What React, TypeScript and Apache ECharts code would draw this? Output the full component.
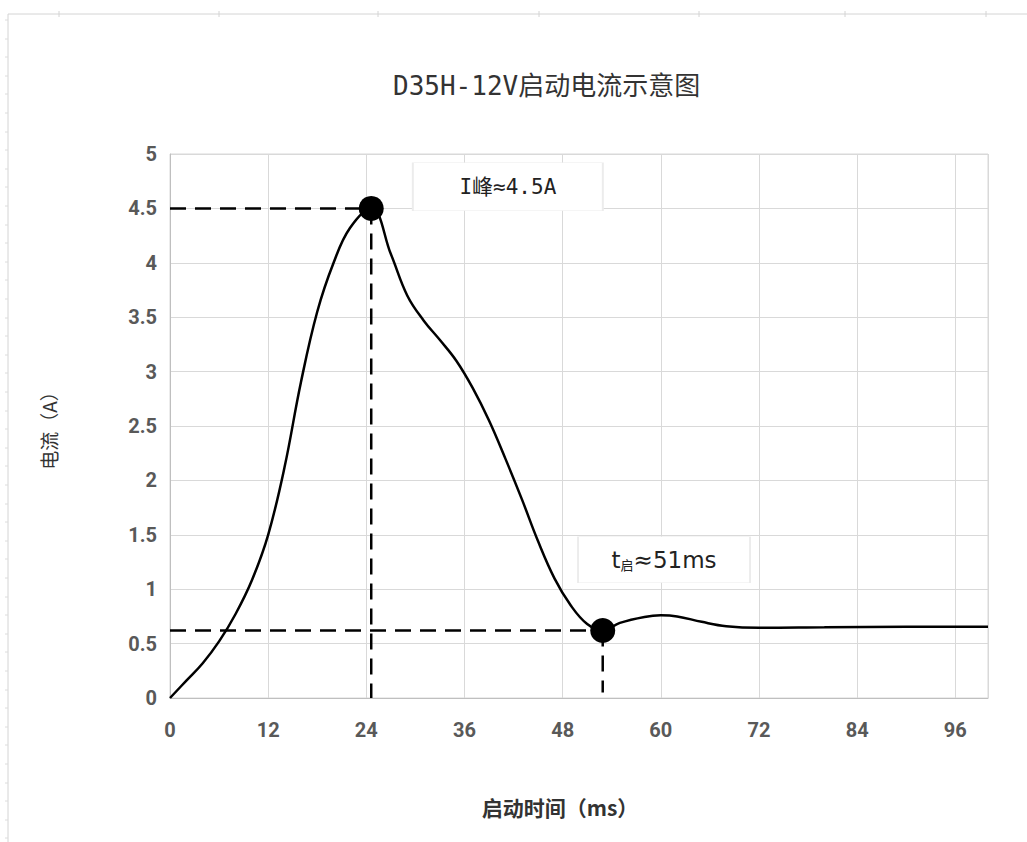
import React, { useEffect, useRef } from "react";
import * as echarts from "echarts";

const TITLE = "D35H-12V启动电流示意图";
const X_NAME = "启动时间（ms）";
const Y_NAME = "电流（A）";

// time (ms) and current (A)
const timeMs = [0, 2, 4, 6, 8, 10, 12, 14, 16, 18, 20, 22, 24.6, 27, 29, 31, 33, 35, 37, 39, 41, 43, 45, 47, 49, 51, 52.9, 55, 58, 60, 62, 65, 68, 72, 80, 90, 100];
const currentA = [0, 0.16, 0.32, 0.52, 0.77, 1.08, 1.5, 2.12, 2.9, 3.55, 4.0, 4.32, 4.5, 4.08, 3.7, 3.47, 3.29, 3.1, 2.85, 2.55, 2.2, 1.83, 1.44, 1.1, 0.85, 0.68, 0.62, 0.69, 0.745, 0.76, 0.75, 0.7, 0.66, 0.645, 0.65, 0.655, 0.655];

const peakPoint = [24.6, 4.5];
const startPoint = [52.9, 0.62];
const peakLabel = "I峰≈4.5A";
const startLabelRich = "t{sub|启}≈51ms";
const peakLabelAnchor = [41.3, 4.7];
const startLabelAnchor = [60.4, 1.27];

export default function App() {
  const ref = useRef<HTMLDivElement>(null);
  useEffect(() => {
    if (!ref.current) return;
    const chart = echarts.init(ref.current, null, { renderer: "svg" });
    const dash = { color: "#000", width: 2.5, type: [16, 9] as any };
    const cjk = "'Noto Sans CJK SC', sans-serif";
    const mono = "'DejaVu Sans Mono', 'Noto Sans CJK SC', monospace";
    const topTicks = [59, 219, 378, 539, 699, 845, 986];
    const leftTicks: number[] = [];
    for (let y = 20; y < 842; y += 18.6) leftTicks.push(Math.round(y));
    chart.setOption({
      animation: false,
      backgroundColor: "#fff",
      title: {
        text: TITLE,
        left: 388,
        top: 68,
        textStyle: { fontFamily: mono, fontSize: 26, fontWeight: "normal", color: "#333" },
      },
      graphic: [
        { type: "line", shape: { x1: 8, y1: 14, x2: 1027, y2: 14 }, style: { stroke: "#d4d4d4", lineWidth: 1 } },
        { type: "line", shape: { x1: 8, y1: 14, x2: 8, y2: 842 }, style: { stroke: "#d4d4d4", lineWidth: 1 } },
        ...topTicks.map((x) => ({ type: "line", shape: { x1: x, y1: 11, x2: x, y2: 17 }, style: { stroke: "#d4d4d4", lineWidth: 1 } })),
        ...leftTicks.map((y) => ({ type: "line", shape: { x1: 5, y1: y, x2: 8, y2: y }, style: { stroke: "#dcdcdc", lineWidth: 1 } })),
      ],
      grid: {
        left: 170,
        right: 39,
        top: 154,
        bottom: 144,
        show: true,
        borderColor: "#d9d9d9",
        borderWidth: 1,
      },
      xAxis: {
        type: "value",
        min: 0,
        max: 100,
        interval: 12,
        name: X_NAME,
        nameLocation: "middle",
        nameGap: 98,
        nameTextStyle: { fontFamily: cjk, fontSize: 21, fontWeight: "bold", color: "#333", padding: [0, 38, 0, 0] },
        axisLine: { show: true, lineStyle: { color: "#bfbfbf" } },
        axisTick: { show: false },
        splitLine: { show: true, lineStyle: { color: "#d9d9d9" } },
        axisLabel: {
          margin: 22,
          fontFamily: "Roboto, sans-serif",
          fontSize: 20,
          fontWeight: "bold",
          color: "#595959",
          formatter: (v: number) => (v === 100 ? "" : String(v)),
        },
      },
      yAxis: {
        type: "value",
        min: 0,
        max: 5,
        interval: 0.5,
        name: Y_NAME,
        nameLocation: "middle",
        nameRotate: 90,
        nameGap: 112,
        nameTextStyle: { fontFamily: cjk, fontSize: 19, color: "#333" },
        axisLine: { show: true, lineStyle: { color: "#bfbfbf" } },
        axisTick: { show: false },
        splitLine: { show: true, lineStyle: { color: "#d9d9d9" } },
        axisLabel: {
          margin: 13,
          fontFamily: "Roboto, sans-serif",
          fontSize: 20,
          fontWeight: "bold",
          color: "#595959",
        },
      },
      series: [
        {
          type: "scatter",
          z: 1,
          silent: true,
          symbol: "rect",
          itemStyle: { color: "#fff", borderColor: "#ececec", borderWidth: 1, opacity: 1 },
          label: {
            show: true,
            position: "inside",
            color: "#222",
          },
          data: [
            { value: peakLabelAnchor, symbolSize: [190, 48], label: { formatter: peakLabel, fontSize: 21, fontFamily: mono } },
            {
              value: startLabelAnchor,
              symbolSize: [172, 46],
              label: {
                formatter: startLabelRich,
                fontSize: 23,
                fontFamily: "'DejaVu Sans', sans-serif",
                rich: { sub: { fontSize: 13, fontFamily: cjk, color: "#222", verticalAlign: "bottom", padding: [9, 0, 0, 0] } },
              },
            },
          ],
        },
        { type: "line", z: 2, symbol: "none", lineStyle: dash, data: [[0, peakPoint[1]], peakPoint] },
        { type: "line", z: 2, symbol: "none", lineStyle: dash, data: [peakPoint, [peakPoint[0], 0]] },
        { type: "line", z: 2, symbol: "none", lineStyle: dash, data: [[0, startPoint[1]], startPoint] },
        { type: "line", z: 2, symbol: "none", lineStyle: dash, data: [startPoint, [startPoint[0], 0.05]] },
        {
          type: "line",
          z: 3,
          smooth: 0.4,
          symbol: "none",
          lineStyle: { color: "#000", width: 2.5 },
          data: timeMs.map((t, i) => [t, currentA[i]]),
        },
        {
          type: "scatter",
          z: 4,
          symbol: "circle",
          symbolSize: 25,
          itemStyle: { color: "#000", opacity: 1 },
          data: [peakPoint, startPoint],
        },
      ],
    });
    return () => chart.dispose();
  }, []);
  return <div ref={ref} style={{ position: "fixed", left: 0, top: 0, width: 1027, height: 842 }} />;
}
